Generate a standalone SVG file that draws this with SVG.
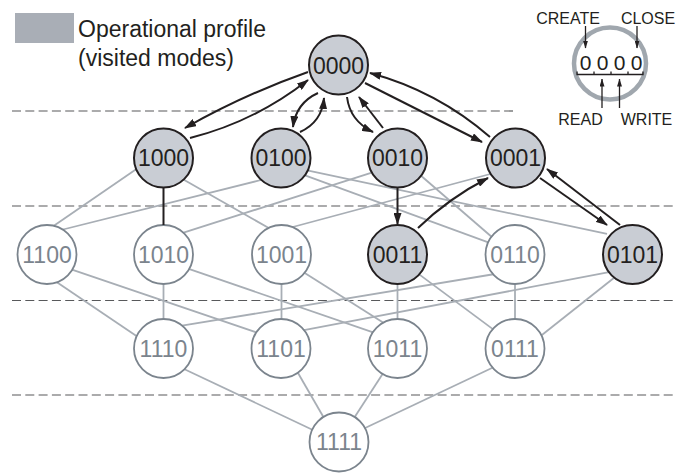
<svg xmlns="http://www.w3.org/2000/svg" width="677" height="473" viewBox="0 0 677 473">
  <defs>
    <marker id="head" viewBox="0 0 12 8" markerWidth="12" markerHeight="8" refX="11" refY="4" orient="auto" markerUnits="userSpaceOnUse">
      <path d="M0,0 L12,4 L0,8 z" fill="#231f20"/>
    </marker>
    <marker id="headS" viewBox="0 0 8 5" markerWidth="8" markerHeight="5" refX="7.5" refY="2.5" orient="auto" markerUnits="userSpaceOnUse">
      <path d="M0,0 L8,2.5 L0,5 z" fill="#231f20"/>
    </marker>
  </defs>
  <style>
    text { font-family: "Liberation Sans", Arial, sans-serif; }
    .dash { stroke: #58595b; stroke-width: 1.2; stroke-dasharray: 9 4.3; fill: none; }
    .edge { stroke: #a8aeb5; stroke-width: 1.8; fill: none; stroke-linecap: butt; }
    .arr { stroke: #231f20; stroke-width: 2; fill: none; marker-end: url(#head); }
    .bar { stroke: #231f20; stroke-width: 2; fill: none; }
    .v circle { fill: #c9cdd4; stroke: #231f20; stroke-width: 2; }
    .u circle { fill: #ffffff; stroke: #7b848d; stroke-width: 1.8; }
    .v text { fill: #231f20; }
    .u text { fill: #7b848d; }
    .lbl { font-size: 23px; text-anchor: middle; }
    .key { font-size: 23px; fill: #231f20; }
    .bit { font-size: 21px; fill: #231f20; text-anchor: middle; }
    .cap { font-size: 16px; fill: #231f20; text-anchor: middle; }
    .thin { stroke: #231f20; stroke-width: 1.3; fill: none; }
    .thinArr { stroke: #231f20; stroke-width: 1.3; fill: none; marker-end: url(#headS); }
  </style>

  <!-- level separators -->
  <g id="levels">
    <line class="dash" x1="12" y1="111" x2="513" y2="111"/>
    <line class="dash" x1="12" y1="206" x2="677" y2="206"/>
    <line class="dash" x1="12" y1="300.5" x2="677" y2="300.5"/>
    <line class="dash" x1="12" y1="395" x2="677" y2="395"/>
  </g>

  <!-- lattice edges (not visited) -->
  <g id="lattice">
    <line class="edge" x1="138.3" y1="167.7" x2="51.7" y2="227.3"/>
    <line class="edge" x1="182.5" y1="179" x2="270.5" y2="229"/>
    <line class="edge" x1="261" y1="180" x2="63" y2="229.5"/>
    <line class="edge" x1="303" y1="174.6" x2="491" y2="243.4"/>
    <line class="edge" x1="306" y1="170.2" x2="607" y2="233.8"/>
    <line class="edge" x1="371" y1="172.8" x2="182" y2="233.2"/>
    <line class="edge" x1="419" y1="174" x2="493" y2="238"/>
    <line class="edge" x1="494" y1="173" x2="289" y2="228"/>

    <line class="edge" x1="54.7" y1="280.8" x2="138.3" y2="337.2"/>
    <line class="edge" x1="69" y1="268.7" x2="259" y2="333.3"/>
    <line class="edge" x1="163.5" y1="280" x2="163.5" y2="322"/>
    <line class="edge" x1="188" y1="268.7" x2="376" y2="333.3"/>
    <line class="edge" x1="281.5" y1="280" x2="281.5" y2="322"/>
    <line class="edge" x1="301.6" y1="270.9" x2="385.4" y2="324.1"/>
    <line class="edge" x1="397.5" y1="280" x2="397.5" y2="322"/>
    <line class="edge" x1="416.8" y1="272.6" x2="493.2" y2="329.4"/>
    <line class="edge" x1="495" y1="274" x2="182" y2="325.7"/>
    <line class="edge" x1="515" y1="280" x2="515" y2="322"/>
    <line class="edge" x1="609" y1="272.2" x2="300" y2="330.8"/>
    <line class="edge" x1="617" y1="275.5" x2="540" y2="336.5"/>

    <line class="edge" x1="182.4" y1="368.3" x2="316.6" y2="431.7"/>
    <line class="edge" x1="296" y1="369.5" x2="326" y2="421.5"/>
    <line class="edge" x1="384.2" y1="371.6" x2="351.8" y2="421.4"/>
    <line class="edge" x1="495.6" y1="366.3" x2="361.4" y2="429.7"/>
  </g>

  <!-- modes -->
  <g id="n0000" class="v"><circle cx="338.5" cy="65" r="29.5"/><text class="lbl" x="338.5" y="73.5">0000</text></g>

  <g id="n1000" class="v"><circle cx="163.5" cy="158" r="29.5"/><text class="lbl" x="163.5" y="166.3">1000</text></g>
  <g id="n0100" class="v"><circle cx="281" cy="158" r="29.5"/><text class="lbl" x="281" y="166.3">0100</text></g>
  <g id="n0010" class="v"><circle cx="397.5" cy="158" r="29.5"/><text class="lbl" x="397.5" y="166.3">0010</text></g>
  <g id="n0001" class="v"><circle cx="515.5" cy="158" r="29.5"/><text class="lbl" x="515.5" y="166.3">0001</text></g>

  <g id="n1100" class="u"><circle cx="47" cy="254.5" r="29.5"/><text class="lbl" x="47" y="262.8">1100</text></g>
  <g id="n1010" class="u"><circle cx="163.5" cy="254.5" r="29.5"/><text class="lbl" x="163.5" y="262.8">1010</text></g>
  <g id="n1001" class="u"><circle cx="281.5" cy="254.5" r="29.5"/><text class="lbl" x="281.5" y="262.8">1001</text></g>
  <g id="n0011" class="v"><circle cx="397.5" cy="254.5" r="29.5"/><text class="lbl" x="397.5" y="262.8">0011</text></g>
  <g id="n0110" class="u"><circle cx="515" cy="254.5" r="29.5"/><text class="lbl" x="515" y="262.8">0110</text></g>
  <g id="n0101" class="v"><circle cx="632.5" cy="254.5" r="29.5"/><text class="lbl" x="632.5" y="262.8">0101</text></g>

  <g id="n1110" class="u"><circle cx="163.5" cy="348.5" r="29.5"/><text class="lbl" x="163.5" y="356.8">1110</text></g>
  <g id="n1101" class="u"><circle cx="281" cy="348.5" r="29.5"/><text class="lbl" x="281" y="356.8">1101</text></g>
  <g id="n1011" class="u"><circle cx="397.5" cy="348.5" r="29.5"/><text class="lbl" x="397.5" y="356.8">1011</text></g>
  <g id="n0111" class="u"><circle cx="515" cy="348.5" r="29.5"/><text class="lbl" x="515" y="356.8">0111</text></g>

  <g id="n1111" class="u"><circle cx="339" cy="442" r="29.5"/><text class="lbl" x="339" y="450.3">1111</text></g>

  <!-- visited transitions -->
  <g id="transitions">
    <path class="arr" d="M308,72 Q244,94.5 185,128"/>
    <path class="arr" d="M190,138 Q255,121.5 308,80"/>
    <path class="arr" d="M318,93 Q296,103 293,127"/>
    <path class="arr" d="M300,132 Q322,122 324,98"/>
    <path class="arr" d="M347,97 Q350,121 373,132"/>
    <path class="arr" d="M383,128 L359,97"/>
    <path class="arr" d="M365,83 L482,142"/>
    <path class="arr" d="M490,137 Q437,91 370,73"/>
    <path class="arr" d="M397.5,188 L397.5,224"/>
    <path class="arr" d="M418,228 Q449,198 488,178"/>
    <path class="arr" d="M540,178 L607,225"/>
    <path class="arr" d="M620,225 L547,169"/>
    <path class="bar" d="M163.5,188 L163.5,225"/>
  </g>

  <!-- key: shaded modes -->
  <g id="key-profile">
    <rect x="15" y="13" width="59" height="30" fill="#a9aeb6"/>
    <text class="key" x="78" y="37">Operational profile</text>
    <text class="key" x="78" y="66">(visited modes)</text>
  </g>

  <!-- key: bit order -->
  <g id="key-bits">
    <circle cx="610" cy="63.5" r="36" fill="none" stroke="#a0a7ae" stroke-width="4.5"/>
    <text class="bit" x="585.5" y="70">0</text>
    <text class="bit" x="602.5" y="70">0</text>
    <text class="bit" x="619.5" y="70">0</text>
    <text class="bit" x="636.5" y="70">0</text>
    <path class="thin" d="M577,71.5 V74.5 H643 V71.5 M594,71.5 V74.5 M611,71.5 V74.5 M628,71.5 V74.5"/>
    <path class="thinArr" d="M585.5,26 V48"/>
    <path class="thinArr" d="M637,26 V48"/>
    <path class="thinArr" d="M602,108 V79"/>
    <path class="thinArr" d="M619.5,108 V79"/>
    <text class="cap" x="568" y="23.5">CREATE</text>
    <text class="cap" x="648" y="23.5">CLOSE</text>
    <text class="cap" x="580.5" y="125">READ</text>
    <text class="cap" x="646.5" y="125">WRITE</text>
  </g>
</svg>
